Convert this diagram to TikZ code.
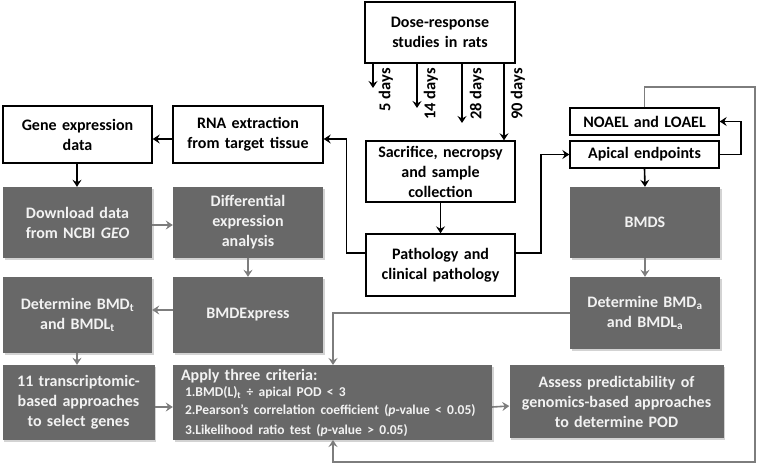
\documentclass[tikz,border=0pt]{standalone}
\usepackage{fontspec}
\setmainfont{Carlito}
\usetikzlibrary{arrows.meta,shadows}
\definecolor{darkbox}{RGB}{104,104,104}
\definecolor{garrow}{RGB}{125,125,125}
\definecolor{boxtext}{RGB}{242,242,242}
\tikzset{
  base/.style={inner sep=2pt, align=center, font=\fontsize{16}{20}\selectfont\bfseries},
  wbox/.style={base, draw=black, line width=1.4pt, fill=white},
  dbox/.style={base, fill=darkbox, text=boxtext, drop shadow={shadow xshift=1.5pt, shadow yshift=-1.5pt, opacity=0.35}},
  arr/.style={draw=black, line width=1.6pt, -{Stealth[length=7pt,width=9pt,inset=2.5pt]}},
  garr/.style={draw=garrow, line width=1.6pt, -{Stealth[length=7pt,width=9pt,inset=2.5pt]}},
  daylab/.style={rotate=90, anchor=east, inner sep=0pt, font=\fontsize{16.5}{18}\selectfont\bfseries},
}
\newcommand{\bx}[8]{% style, name, x1, y1, x2, y2, text width, text
  \node[#1, minimum width={#5-#3}, minimum height={#6-#4}, text width=#7] (#2) at ({(#3+#5)/2},{(#4+#6)/2}) {#8};}
\begin{document}
\begin{tikzpicture}[x=1pt,y=-1pt]
\useasboundingbox (0,0) rectangle (761,466);
% white boxes
\bx{wbox}{dose}{365}{2}{515}{63}{145pt}{Dose-response\\studies in rats}
\bx{wbox}{gene}{3}{106}{152}{163}{145pt}{Gene expression\\data}
\bx{wbox}{rna}{173}{106}{323}{163}{145pt}{RNA extraction\\from target tissue}
\bx{wbox}{sac}{366}{141}{515}{202}{145pt}{Sacrifice, necropsy\\and sample\\collection}
\bx{wbox}{path}{366}{234}{515}{296}{145pt}{Pathology and\\clinical pathology}
\bx{wbox}{noael}{570}{108}{719}{135}{145pt}{NOAEL and LOAEL}
\bx{wbox}{apical}{570}{141}{719}{168}{145pt}{Apical endpoints}
% dark boxes
\bx{dbox}{download}{3}{187}{152}{258}{145pt}{Download data\\from NCBI \textit{GEO}}
\bx{dbox}{diff}{173}{187}{323}{258}{145pt}{Differential\\expression\\analysis}
\bx{dbox}{bmds}{570}{187}{720}{258}{145pt}{BMDS}
\bx{dbox}{bmdt}{3}{277}{152}{353}{145pt}{Determine BMD\textsubscript{t}\\and BMDL\textsubscript{t}}
\bx{dbox}{bmdex}{173}{277}{323}{353}{145pt}{BMDExpress}
\bx{dbox}{bmda}{570}{277}{720}{349}{145pt}{Determine BMD\textsubscript{a}\\and BMDL\textsubscript{a}}
\bx{dbox}{trans}{3}{365}{154}{440}{148pt}{11 transcriptomic-\\based approaches\\to select genes}
\bx{dbox}{assess}{510}{365}{723}{438}{210pt}{Assess predictability of\\genomics-based approaches\\to determine POD}
\node[dbox, align=left, minimum width=319, minimum height=75, text width=303pt, inner xsep=8pt, inner ysep=0pt] (apply) at (332.5,402.5)
  {{\fontsize{16}{18}\selectfont Apply three criteria:}\\[-1pt]
   {\fontsize{13.5}{17.5}\selectfont\hspace*{4pt}1.BMD(L)\textsubscript{t} ÷ apical POD < 3\\
   \hspace*{4pt}2.Pearson's correlation coefficient (\textit{p}-value < 0.05)\\
   \hspace*{4pt}3.Likelihood ratio test (\textit{p}-value > 0.05)}};
% day arrows
\coordinate (d1) at (373,88);
\coordinate (d2) at (417,108);
\coordinate (d3) at (462,123);
\draw[arr] (dose.south -| d1) -- (d1);
\draw[arr] (dose.south -| d2) -- (d2);
\draw[arr] (dose.south -| d3) -- (d3);
\draw[arr] (dose.south -| 504,0) -- (sac.north -| 504,0);
\node[daylab] (l5) at (386,68) {5 days};
\node[daylab] (l14) at (431,68) {14 days};
\node[daylab] (l28) at (477,68) {28 days};
\node[daylab] (l90) at (518,68) {90 days};
% black connectors
\draw[arr] (sac.south) -- (path.north);
\draw[arr] ([yshift=12pt]path.west) -- ++(-19,0) |- ([yshift=-4.5pt]rna.east);
\draw[arr] ([yshift=-4.5pt]rna.west) -- ([yshift=-4.5pt]gene.east);
\draw[arr] (gene.south -| 77,0) -- (download.north -| 77,0);
\draw[arr] ([yshift=12pt]path.east) -- ++(25,0) |- (apical.west);
\draw[arr] (apical.east) -- ++(21,0) |- (noael.east);
\draw[arr] (apical.south) -- (bmds.north);
% gray connectors
\draw[garr] ([yshift=-2.5pt]download.east) -- ([yshift=-2.5pt]diff.west);
\draw[garr] (diff.south) -- (bmdex.north);
\draw[garr] ([yshift=5pt]bmdex.west) -- ([yshift=5pt]bmdt.east);
\draw[garr] (bmdt.south -| 77,0) -- (trans.north -| 77,0);
\draw[garr] ([yshift=-4.5pt]trans.east) -- ([yshift=-4.5pt]apply.west);
\draw[garr] ([yshift=-4.5pt]apply.east) -- ([yshift=-4.5pt]assess.west);
\draw[garr] (bmds.south) -- (bmda.north);
\coordinate (ain) at (333,365);
\draw[garr] (bmda.west) -| (ain);
\coordinate (r1) at (755,87);
\coordinate (r2) at (755,462);
\coordinate (aout) at (333,440);
\draw[garr] (noael.north) |- (r1) -- (r2) -| (aout);
\end{tikzpicture}
\end{document}
